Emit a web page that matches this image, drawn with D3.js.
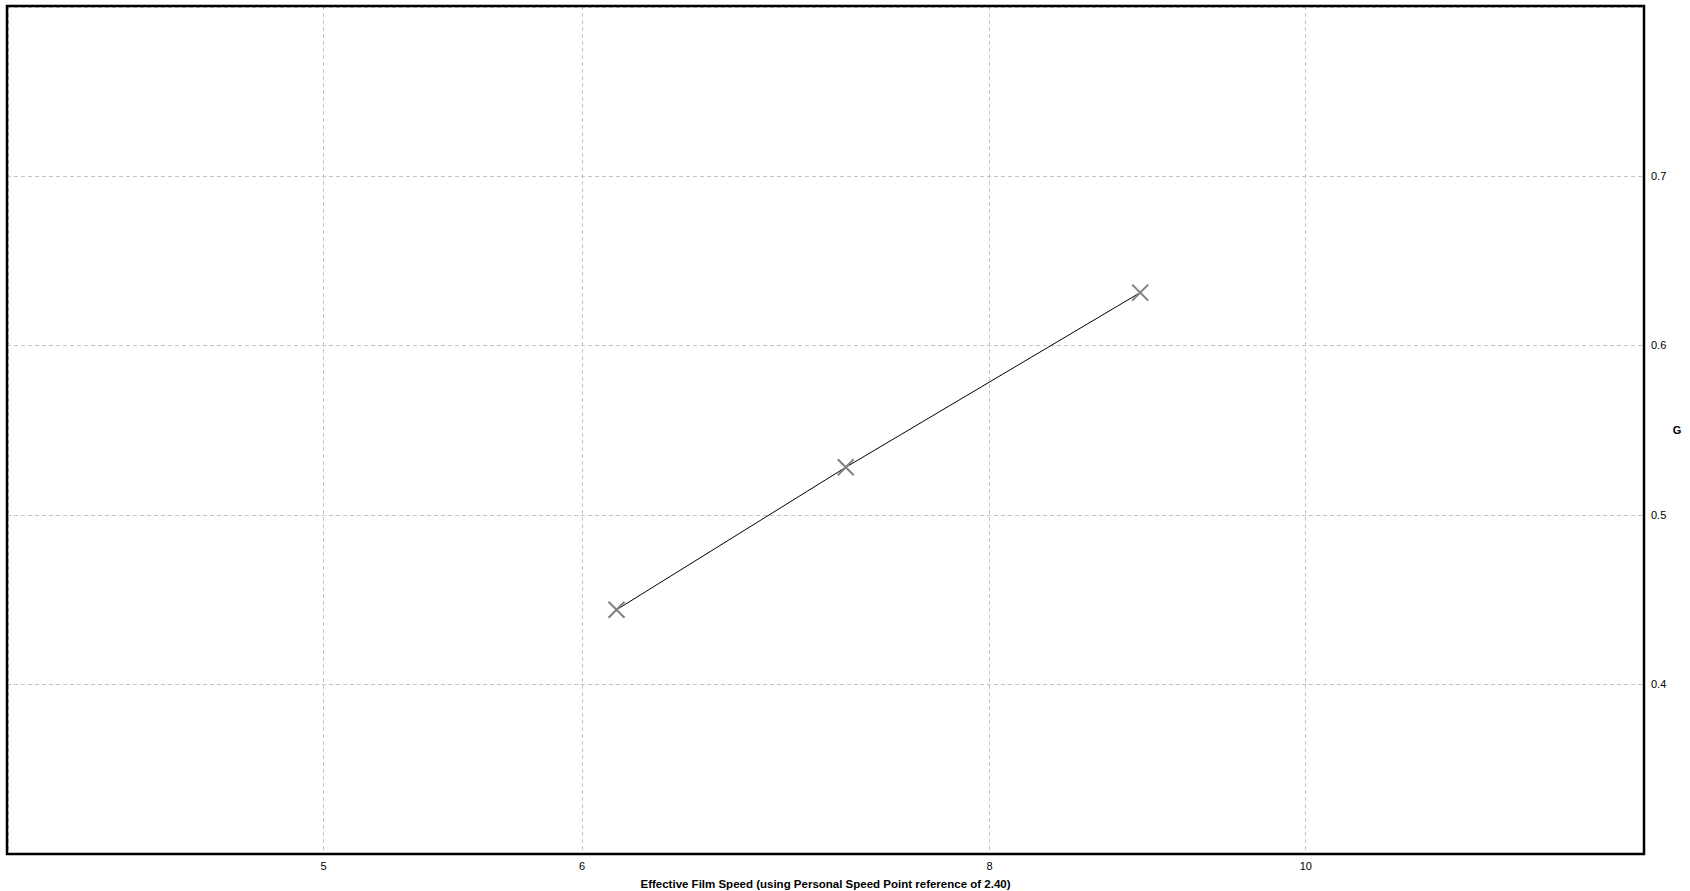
<!DOCTYPE html>
<html>
<head>
<meta charset="utf-8">
<script src="https://cdn.jsdelivr.net/npm/d3@7"></script>
<style>
  html, body { margin: 0; padding: 0; background: #ffffff; }
  svg { display: block; }
  text { font-family: "Liberation Sans", Arial, sans-serif; }
</style>
</head>
<body>
<svg id="chart" width="1690" height="891"></svg>
<script>
// ---- data ----
const filmSpeed = [6.15, 7.23, 8.90];          // x (log axis)
const gValues   = [0.444, 0.528, 0.631];       // y
const xTicks    = [5, 6, 8, 10];
const yTicks    = [0.4, 0.5, 0.6, 0.7];
const xDomain   = [4, 12.7];
const yDomain   = [0.3, 0.8];
const xTitle    = "Effective Film Speed (using Personal Speed Point reference of 2.40)";
const yTitle    = "G";

// ---- layout ----
const W = 1690, H = 891;
const plot = { left: 7, top: 6, right: 1644, bottom: 854 };

const svg = d3.select("#chart");

const x = d3.scaleLog().domain(xDomain).range([plot.left, plot.right]);
const y = d3.scaleLinear().domain(yDomain).range([plot.bottom, plot.top]);

const gridColor = "#c4c4c4";
const dash = "4,3";

// grid lines
const grid = svg.append("g");
grid.selectAll("line.vx").data(xTicks).enter().append("line")
  .attr("x1", d => Math.round(x(d)) + 0.5).attr("x2", d => Math.round(x(d)) + 0.5)
  .attr("y1", plot.top).attr("y2", plot.bottom)
  .attr("stroke", gridColor).attr("stroke-dasharray", dash);
grid.selectAll("line.hy").data(yTicks).enter().append("line")
  .attr("y1", d => Math.round(y(d)) + 0.5).attr("y2", d => Math.round(y(d)) + 0.5)
  .attr("x1", plot.left).attr("x2", plot.right)
  .attr("stroke", gridColor).attr("stroke-dasharray", dash);
// edge grid lines (domain boundaries)
grid.append("line")
  .attr("x1", x(xDomain[0]) + 1.5).attr("x2", x(xDomain[0]) + 1.5)
  .attr("y1", plot.top).attr("y2", plot.bottom)
  .attr("stroke", gridColor).attr("stroke-dasharray", dash);
grid.append("line")
  .attr("y1", y(yDomain[1]) + 1.5).attr("y2", y(yDomain[1]) + 1.5)
  .attr("x1", plot.left).attr("x2", plot.right)
  .attr("stroke", gridColor).attr("stroke-dasharray", dash);

// frame
svg.append("rect")
  .attr("x", plot.left).attr("y", plot.top)
  .attr("width", plot.right - plot.left).attr("height", plot.bottom - plot.top)
  .attr("fill", "none").attr("stroke", "#000").attr("stroke-width", 2.5);

// x axis (labels only)
const xAxis = d3.axisBottom(x).tickValues(xTicks).tickFormat(d3.format("d")).tickSize(0).tickPadding(8);
const gx = svg.append("g").attr("transform", `translate(0,${plot.bottom})`).call(xAxis);
gx.select(".domain").remove();
gx.selectAll("text").attr("font-size", 11).attr("fill", "#000")
  .style("font-family", "'Liberation Sans', Arial, sans-serif");

// y axis on right (labels only)
const yAxis = d3.axisRight(y).tickValues(yTicks).tickFormat(d3.format(".1f")).tickSize(0).tickPadding(7);
const gy = svg.append("g").attr("transform", `translate(${plot.right},0)`).call(yAxis);
gy.select(".domain").remove();
gy.selectAll("text").attr("font-size", 11).attr("fill", "#000")
  .style("font-family", "'Liberation Sans', Arial, sans-serif");

// titles
svg.append("text")
  .attr("x", (plot.left + plot.right) / 2).attr("y", 888)
  .attr("text-anchor", "middle").attr("font-size", 11.5).attr("font-weight", "bold")
  .text(xTitle);
svg.append("text")
  .attr("x", 1677).attr("y", (plot.top + plot.bottom) / 2 + 4)
  .attr("text-anchor", "middle").attr("font-size", 11).attr("font-weight", "bold")
  .text(yTitle);

// series
const pts = filmSpeed.map((v, i) => [v, gValues[i]]);
svg.append("path")
  .datum(pts)
  .attr("d", d3.line().x(d => x(d[0])).y(d => y(d[1])))
  .attr("fill", "none").attr("stroke", "#000").attr("stroke-width", 1);

const s = 8;
const marks = svg.append("g");
marks.selectAll("path.m").data(pts).enter().append("path")
  .attr("d", d => {
    const cx = x(d[0]), cy = y(d[1]);
    return `M${cx - s},${cy - s}L${cx + s},${cy + s}M${cx - s},${cy + s}L${cx + s},${cy - s}`;
  })
  .attr("stroke", "#808080").attr("stroke-width", 2).attr("fill", "none");
</script>
</body>
</html>
